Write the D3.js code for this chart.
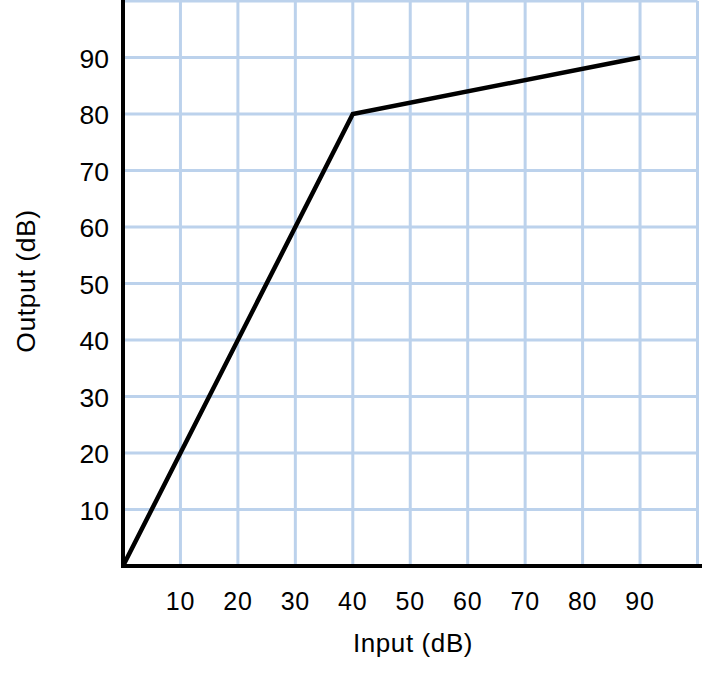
<!DOCTYPE html>
<html>
<head>
<meta charset="utf-8">
<script src="https://cdn.jsdelivr.net/npm/d3@7"></script>
<style>
  html, body { margin: 0; padding: 0; background: #fff; }
  text { font-family: "Liberation Sans", Arial, sans-serif; fill: #000; }
</style>
</head>
<body>
<svg id="chart" width="702" height="678"></svg>
<script>
// input/output curve of a compressor
const inputDb = [0, 40, 90];
const outputDb = [0, 80, 90];
const xTicks = [10, 20, 30, 40, 50, 60, 70, 80, 90];
const yTicks = [10, 20, 30, 40, 50, 60, 70, 80, 90];
const gridValues = [10, 20, 30, 40, 50, 60, 70, 80, 90, 100];

const svg = d3.select("#chart");
const plotLeft = 123, plotRight = 697.5, plotTop = 1, plotBottom = 566;

const x = d3.scaleLinear().domain([0, 100]).range([plotLeft, plotRight]);
const y = d3.scaleLinear().domain([0, 100]).range([plotBottom, plotTop]);

// grid
const grid = svg.append("g").attr("stroke", "#bcd2ec").attr("stroke-width", 3);
grid.selectAll("line.v").data(gridValues).enter().append("line")
    .attr("class", "v")
    .attr("x1", d => x(d)).attr("x2", d => x(d))
    .attr("y1", y(100)).attr("y2", y(0));
grid.selectAll("line.h").data(gridValues).enter().append("line")
    .attr("class", "h")
    .attr("x1", x(0)).attr("x2", x(100))
    .attr("y1", d => y(d)).attr("y2", d => y(d));

// axes
svg.append("line")
    .attr("x1", x(0)).attr("x2", x(0))
    .attr("y1", 0).attr("y2", y(0) + 2)
    .attr("stroke", "#000").attr("stroke-width", 4);
svg.append("line")
    .attr("x1", x(0) - 2).attr("x2", 702)
    .attr("y1", y(0)).attr("y2", y(0))
    .attr("stroke", "#000").attr("stroke-width", 4);

// tick labels
svg.append("g").selectAll("text").data(xTicks).enter().append("text")
    .attr("x", d => x(d)).attr("y", 609.5)
    .attr("text-anchor", "middle")
    .style("font-size", "25px")
    .style("letter-spacing", "0.8px")
    .text(d => d);
svg.append("g").selectAll("text").data(yTicks).enter().append("text")
    .attr("x", 109).attr("y", d => y(d) + 10)
    .attr("text-anchor", "end")
    .style("font-size", "26.5px")
    .text(d => d);

// titles
svg.append("text")
    .attr("x", 413).attr("y", 652)
    .attr("text-anchor", "middle")
    .style("font-size", "26px")
    .style("letter-spacing", "0.6px")
    .text("Input (dB)");
svg.append("text")
    .attr("transform", "translate(35,281) rotate(-90)")
    .attr("text-anchor", "middle")
    .style("font-size", "26.5px")
    .style("letter-spacing", "0.6px")
    .text("Output (dB)");

// curve
const line = d3.line().x((d, i) => x(inputDb[i])).y(d => y(d));
svg.append("path")
    .attr("d", line(outputDb))
    .attr("fill", "none")
    .attr("stroke", "#000")
    .attr("stroke-width", 4.5)
    .attr("stroke-linejoin", "miter");
</script>
</body>
</html>
